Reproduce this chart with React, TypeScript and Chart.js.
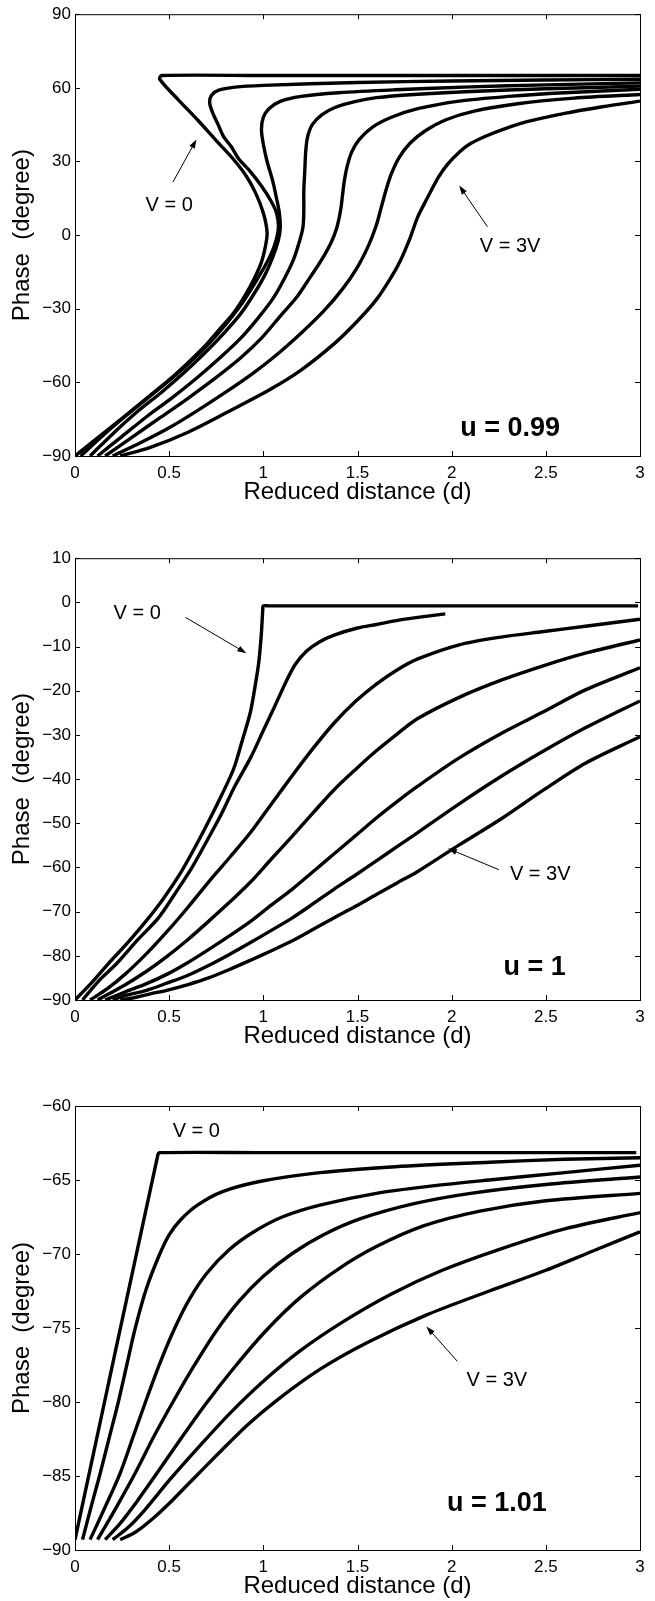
import React, { useEffect, useRef } from "react";
import { Chart, registerables } from "chart.js";
Chart.register(...registerables);

type Pt = [number, number];

const FONT = "'Liberation Sans', Arial, Helvetica, sans-serif";
const X_TITLE = "Reduced distance (d)";
const Y_TITLE = "Phase  (degree)";

// ---------- Panel 1 : u = 0.99 ----------
const a_v00: Pt[] = [[0,-90],[0.13,-82],[0.26,-74],[0.38,-66.5],[0.5,-59],[0.6,-52],[0.68,-46],[0.76,-39],[0.84,-32],[0.9,-25],[0.95,-18],[0.99,-11],[1.01,-5],[1.02,1],[1.0,9],[0.96,17],[0.91,24],[0.84,31],[0.75,38.5],[0.65,47],[0.55,55],[0.45,63.5],[0.46,65],[1.0,65],[1.5,65],[2,65],[2.5,65],[3,65]];
const a_v05: Pt[] = [[0.03,-90],[0.15,-81.5],[0.28,-73],[0.4,-65.5],[0.52,-58],[0.63,-50.5],[0.72,-43.5],[0.81,-35.5],[0.89,-27.5],[0.96,-19],[1.02,-11],[1.06,-4],[1.08,3],[1.07,9],[1.04,14],[0.99,20],[0.93,26],[0.87,31],[0.83,36],[0.79,40],[0.76,45],[0.73,50],[0.715,54],[0.725,57],[0.76,59],[0.85,60.3],[1.0,61],[1.5,62.2],[2,62.8],[2.5,63.2],[3,63.5]];
const a_v10: Pt[] = [[0.08,-90],[0.2,-81],[0.33,-72],[0.46,-64],[0.58,-56],[0.69,-48],[0.79,-40],[0.88,-32],[0.95,-24],[1.01,-16],[1.05,-9],[1.08,-2],[1.09,3],[1.085,9],[1.07,15],[1.05,22],[1.02,30],[1.0,37],[0.99,43],[1.0,48],[1.03,51.5],[1.09,54.5],[1.2,56.5],[1.4,58],[1.7,59.2],[2.1,60.4],[2.5,61.2],[3,62]];
const a_v15: Pt[] = [[0.12,-90],[0.25,-82],[0.38,-74],[0.52,-66],[0.65,-58],[0.77,-50],[0.88,-42],[0.97,-34],[1.05,-26],[1.11,-18],[1.16,-10],[1.19,-3],[1.21,3],[1.215,10],[1.215,18],[1.22,26],[1.225,34],[1.235,40],[1.26,45],[1.31,49],[1.38,52],[1.48,54.3],[1.6,56],[1.8,57.3],[2.1,58.5],[2.5,59.6],[3,60.7]];
const a_v20: Pt[] = [[0.16,-90],[0.3,-82.5],[0.45,-74.5],[0.6,-66.5],[0.75,-58],[0.88,-50],[0.99,-42],[1.09,-33],[1.18,-25],[1.25,-17],[1.31,-10],[1.36,-3],[1.39,3],[1.41,10],[1.42,16],[1.43,22],[1.445,28],[1.47,34],[1.51,39],[1.58,44],[1.68,48],[1.82,51.5],[2.04,54.6],[2.3,56.5],[2.6,58],[3,59.4]];
const a_v25: Pt[] = [[0.2,-90],[0.35,-84.5],[0.5,-78.5],[0.65,-71.5],[0.8,-64],[0.95,-56],[1.09,-47.5],[1.2,-40],[1.32,-31],[1.42,-22],[1.5,-13],[1.56,-4],[1.6,4],[1.625,11],[1.65,18],[1.68,25],[1.72,31.5],[1.78,37.5],[1.86,42.5],[1.97,47],[2.12,50.5],[2.35,53.5],[2.65,55.8],[3,57.3]];
const a_v30: Pt[] = [[0.24,-90],[0.4,-86.5],[0.6,-80.3],[0.8,-72.5],[1.04,-62.7],[1.2,-55],[1.38,-44],[1.5,-35],[1.6,-26.3],[1.68,-17],[1.73,-10],[1.78,-1],[1.82,7.4],[1.87,15],[1.93,23.6],[1.98,29],[2.04,33.8],[2.1,37.3],[2.18,40.3],[2.27,43],[2.4,46.2],[2.6,49.6],[2.8,52.3],[3,54.6]];

// ---------- Panel 2 : u = 1 ----------
const b_v00: Pt[] = [[0,-90],[0.09,-86],[0.176,-81.8],[0.28,-77],[0.376,-72.2],[0.47,-67],[0.554,-61.7],[0.63,-56],[0.709,-49.6],[0.78,-43.5],[0.843,-37.6],[0.89,-31],[0.932,-24.7],[0.96,-18],[0.976,-13.5],[0.988,-8],[0.994,-3.9],[0.997,-1.6],[0.999,-0.8],[1.03,-0.8],[1.5,-0.8],[2,-0.8],[2.5,-0.8],[2.99,-0.8]];
const b_v05: Pt[] = [[0.04,-90],[0.13,-85.5],[0.22,-81.8],[0.33,-76.5],[0.443,-71.4],[0.53,-66],[0.62,-60.1],[0.7,-54],[0.776,-48],[0.85,-41.5],[0.932,-35.2],[1.0,-29],[1.065,-23.1],[1.12,-18],[1.17,-14],[1.23,-11],[1.3,-8.9],[1.376,-7.4],[1.5,-5.8],[1.6,-5],[1.72,-4],[1.82,-3.4],[1.966,-2.6]];
const b_v10: Pt[] = [[0.08,-90],[0.17,-87.5],[0.265,-84.2],[0.38,-79.5],[0.487,-74.6],[0.6,-69],[0.709,-63.3],[0.82,-57.8],[0.932,-52.1],[1.04,-45.8],[1.154,-39.2],[1.265,-33],[1.376,-27.3],[1.49,-22.4],[1.6,-18.5],[1.71,-15.3],[1.82,-12.8],[2.04,-9.6],[2.27,-7.8],[2.49,-6.6],[2.71,-5.4],[3,-3.8]];
const b_v15: Pt[] = [[0.12,-90],[0.265,-86.6],[0.38,-83.5],[0.487,-80.2],[0.6,-76.3],[0.709,-72.2],[0.82,-67.9],[0.932,-63.3],[1.04,-58.2],[1.154,-52.9],[1.265,-47.6],[1.376,-42.4],[1.49,-37.8],[1.6,-33.6],[1.71,-29.8],[1.82,-26.3],[2.04,-21.5],[2.27,-17.5],[2.49,-14.3],[2.71,-11.5],[3,-8.5]];
const b_v20: Pt[] = [[0.16,-90],[0.265,-88.2],[0.38,-86.3],[0.487,-84.2],[0.6,-81.5],[0.709,-78.6],[0.82,-75.5],[0.932,-72.2],[1.04,-68.6],[1.154,-64.9],[1.265,-60.9],[1.376,-56.9],[1.49,-52.8],[1.6,-48.8],[1.71,-45.1],[1.82,-41.6],[2.04,-35.2],[2.27,-29.5],[2.49,-24.7],[2.71,-19.8],[3,-14.8]];
const b_v25: Pt[] = [[0.2,-90],[0.265,-89],[0.38,-87.8],[0.487,-86.2],[0.6,-84.4],[0.709,-82.2],[0.82,-79.7],[0.932,-77],[1.04,-74.3],[1.154,-71.4],[1.265,-68.2],[1.376,-64.9],[1.49,-61.7],[1.6,-58.5],[1.71,-55.3],[1.82,-52.1],[2.04,-45.6],[2.27,-39.2],[2.49,-33.6],[2.71,-28.4],[3,-22.3]];
const b_v30: Pt[] = [[0.24,-90],[0.3,-89.6],[0.4,-88.6],[0.487,-87.8],[0.6,-86.5],[0.709,-85],[0.82,-83.1],[0.932,-81],[1.04,-78.9],[1.154,-76.6],[1.265,-74],[1.376,-71.4],[1.49,-68.8],[1.6,-66.1],[1.71,-63.5],[1.82,-60.9],[2.04,-54.9],[2.27,-48.8],[2.49,-42.4],[2.71,-36.4],[3,-30.4]];

// ---------- Panel 3 : u = 1.01 ----------
const c_v00: Pt[] = [[0,-89.3],[0.44,-63.3],[0.45,-63.15],[1,-63.15],[1.5,-63.15],[2,-63.15],[2.5,-63.15],[2.98,-63.15]];
const c_v05: Pt[] = [[0.04,-89.3],[0.085,-87.1],[0.13,-85],[0.18,-82.5],[0.23,-80],[0.275,-77.5],[0.32,-75],[0.38,-72.3],[0.45,-70],[0.5,-68.7],[0.56,-67.7],[0.65,-66.7],[0.78,-65.8],[0.98,-65.1],[1.3,-64.5],[1.7,-64.1],[2.2,-63.8],[2.6,-63.6],[3,-63.5]];
const c_v10: Pt[] = [[0.08,-89.3],[0.16,-87.1],[0.24,-84.8],[0.31,-82.3],[0.38,-79.8],[0.45,-77.4],[0.53,-75],[0.61,-73],[0.7,-71.3],[0.82,-69.7],[0.95,-68.5],[1.1,-67.5],[1.3,-66.7],[1.6,-65.9],[1.9,-65.4],[2.2,-65],[2.6,-64.5],[3,-64]];
const c_v15: Pt[] = [[0.12,-89.3],[0.22,-87.1],[0.32,-84.8],[0.42,-82.3],[0.52,-80],[0.63,-77.6],[0.75,-75.2],[0.87,-73.2],[1.0,-71.5],[1.15,-70],[1.32,-68.7],[1.52,-67.6],[1.8,-66.6],[2.1,-65.9],[2.5,-65.3],[3,-64.8]];
const c_v20: Pt[] = [[0.16,-89.3],[0.24,-88.2],[0.33,-86.7],[0.43,-84.9],[0.55,-82.7],[0.69,-80.2],[0.85,-77.6],[1.02,-75.1],[1.2,-72.9],[1.4,-71],[1.6,-69.5],[1.85,-68.1],[2.15,-67.1],[2.5,-66.4],[3,-65.9]];
const c_v25: Pt[] = [[0.2,-89.3],[0.28,-88.5],[0.37,-87.3],[0.5,-85.3],[0.66,-83],[0.82,-80.8],[1.0,-78.6],[1.2,-76.5],[1.42,-74.6],[1.68,-72.7],[1.95,-71.1],[2.25,-69.7],[2.6,-68.3],[3,-67.2]];
const c_v30: Pt[] = [[0.24,-89.3],[0.32,-88.8],[0.42,-87.8],[0.52,-86.6],[0.62,-85.3],[0.76,-83.5],[0.92,-81.5],[1.08,-79.8],[1.3,-77.8],[1.55,-76],[1.87,-74.1],[2.2,-72.5],[2.5,-71.1],[2.75,-69.8],[3,-68.5]];

type Note = { text: string; at: Pt; size: number; bold?: boolean };
type Arrow = { from: Pt; to: Pt };

const notesA: Note[] = [
  { text: "V = 0", at: [0.5, 12], size: 20 },
  { text: "V = 3V", at: [2.31, -4.7], size: 20 },
  { text: "u = 0.99", at: [2.31, -79], size: 27, bold: true },
];
const arrowsA: Arrow[] = [
  { from: [0.52, 21.6], to: [0.645, 39] },
  { from: [2.19, 3.4], to: [2.04, 20.2] },
];
const notesB: Note[] = [
  { text: "V = 0", at: [0.33, -2.6], size: 20 },
  { text: "V = 3V", at: [2.47, -61.7], size: 20 },
  { text: "u = 1", at: [2.44, -82.6], size: 27, bold: true },
];
const arrowsB: Arrow[] = [
  { from: [0.587, -3.4], to: [0.91, -11.5] },
  { from: [2.25, -60.5], to: [1.98, -55.7] },
];
const notesC: Note[] = [
  { text: "V = 0", at: [0.644, -61.7], size: 20 },
  { text: "V = 3V", at: [2.24, -78.55], size: 20 },
  { text: "u = 1.01", at: [2.24, -86.85], size: 27, bold: true },
];
const arrowsC: Arrow[] = [{ from: [2.03, -77.25], to: [1.866, -74.9] }];

const fmt = (v: number) => (v < 0 ? "\u2212" + String(Math.abs(v)) : String(v));

const decor = {
  id: "decor",
  afterDatasetsDraw(chart: any, _a: any, opts: any) {
    const { ctx, chartArea: a } = chart;
    const xs = chart.scales.x;
    const ys = chart.scales.y;
    ctx.save();
    ctx.strokeStyle = "#000";
    ctx.lineWidth = 1;
    ctx.strokeRect(a.left + 0.5, a.top + 0.5, a.right - a.left, a.bottom - a.top);
    const TL = 5;
    ctx.beginPath();
    xs.ticks.forEach((t: any) => {
      const p = Math.round(xs.getPixelForValue(t.value)) + 0.5;
      ctx.moveTo(p, a.bottom);
      ctx.lineTo(p, a.bottom - TL);
      ctx.moveTo(p, a.top);
      ctx.lineTo(p, a.top + TL);
    });
    ys.ticks.forEach((t: any) => {
      const p = Math.round(ys.getPixelForValue(t.value)) + 0.5;
      ctx.moveTo(a.left, p);
      ctx.lineTo(a.left + TL, p);
      ctx.moveTo(a.right, p);
      ctx.lineTo(a.right - TL, p);
    });
    ctx.stroke();
    const P = (q: Pt) => [xs.getPixelForValue(q[0]), ys.getPixelForValue(q[1])];
    ctx.fillStyle = "#000";
    ctx.textAlign = "center";
    ctx.textBaseline = "middle";
    (opts.notes || []).forEach((n: Note) => {
      const [x, y] = P(n.at);
      ctx.font = `${n.bold ? "bold " : ""}${n.size}px ${FONT}`;
      ctx.fillText(n.text, x, y);
    });
    (opts.arrows || []).forEach((ar: Arrow) => {
      const [x1, y1] = P(ar.from);
      const [x2, y2] = P(ar.to);
      const ang = Math.atan2(y2 - y1, x2 - x1);
      const c = Math.cos(ang), s = Math.sin(ang);
      ctx.lineWidth = 1;
      ctx.beginPath();
      ctx.moveTo(x1, y1);
      ctx.lineTo(x2 - 6 * c, y2 - 6 * s);
      ctx.stroke();
      ctx.beginPath();
      ctx.moveTo(x2, y2);
      ctx.lineTo(x2 - 9 * c + 3 * s, y2 - 9 * s - 3 * c);
      ctx.lineTo(x2 - 9 * c - 3 * s, y2 - 9 * s + 3 * c);
      ctx.closePath();
      ctx.fill();
    });
    ctx.restore();
  },
};

interface PanelProps {
  curves: Pt[][];
  yMin: number;
  yMax: number;
  yStep: number;
  notes: Note[];
  arrows: Arrow[];
  top: number;
  height: number;
  padTop: number;
  bottomLocal: number;
}

function Panel(p: PanelProps) {
  const ref = useRef<HTMLCanvasElement>(null);
  useEffect(() => {
    if (!ref.current) return;
    const xAxisH = p.height - p.bottomLocal;
    const titleMid = p.bottomLocal + 36;
    const titleLH = 24;
    const titlePadBottom = Math.max(0, p.height - titleMid - titleLH / 2);
    const chart = new Chart(ref.current, {
      type: "line",
      data: {
        datasets: p.curves.map((c) => ({
          data: c.map(([x, y]) => ({ x, y })),
          borderColor: "#000",
          backgroundColor: "#000",
          borderWidth: 3.4,
          pointRadius: 0,
          tension: 0.3,
          fill: false,
        })),
      },
      options: {
        responsive: false,
        animation: false,
        devicePixelRatio: 1,
        layout: { padding: { top: p.padTop, right: 15, left: 0, bottom: 0 } },
        plugins: {
          legend: { display: false },
          tooltip: { enabled: false },
          decor: { notes: p.notes, arrows: p.arrows },
        } as any,
        scales: {
          x: {
            type: "linear",
            min: 0,
            max: 3,
            ticks: {
              stepSize: 0.5,
              padding: 7,
              color: "#000",
              maxRotation: 0,
              autoSkip: false,
              font: { size: 17, family: FONT },
              callback: (v: any) => fmt(Number(v)),
            },
            grid: { display: false, drawTicks: false },
            border: { display: false },
            title: {
              display: true,
              text: X_TITLE,
              color: "#000",
              font: { size: 24, family: FONT, lineHeight: 1 },
              padding: { top: 0, bottom: titlePadBottom },
            },
            afterFit: (s: any) => {
              s.height = xAxisH;
            },
          },
          y: {
            type: "linear",
            min: p.yMin,
            max: p.yMax,
            ticks: {
              stepSize: p.yStep,
              padding: 4,
              color: "#000",
              autoSkip: false,
              font: { size: 17, family: FONT },
              callback: (v: any) => fmt(Number(v)),
            },
            grid: { display: false, drawTicks: false },
            border: { display: false },
            title: {
              display: true,
              text: Y_TITLE,
              color: "#000",
              font: { size: 24, family: FONT, lineHeight: 1 },
              padding: { top: 10, bottom: 0 },
            },
            afterFit: (s: any) => {
              s.width = 75;
            },
          },
        } as any,
      },
      plugins: [decor as any],
    });
    return () => chart.destroy();
  }, []);
  return (
    <canvas
      ref={ref}
      width={655}
      height={p.height}
      style={{ position: "absolute", left: 0, top: p.top, width: 655, height: p.height, display: "block" }}
    />
  );
}

export default function App() {
  return (
    <div style={{ position: "absolute", left: 0, top: 0, width: 655, height: 1601, background: "#fff", overflow: "hidden" }}>
      <Panel
        curves={[a_v00, a_v05, a_v10, a_v15, a_v20, a_v25, a_v30]}
        yMin={-90} yMax={90} yStep={30}
        notes={notesA} arrows={arrowsA}
        top={0} height={544} padTop={13} bottomLocal={456}
      />
      <Panel
        curves={[b_v00, b_v05, b_v10, b_v15, b_v20, b_v25, b_v30]}
        yMin={-90} yMax={10} yStep={10}
        notes={notesB} arrows={arrowsB}
        top={544} height={544} padTop={13} bottomLocal={456}
      />
      <Panel
        curves={[c_v00, c_v05, c_v10, c_v15, c_v20, c_v25, c_v30]}
        yMin={-90} yMax={-60} yStep={5}
        notes={notesC} arrows={arrowsC}
        top={1088} height={513} padTop={18} bottomLocal={462}
      />
    </div>
  );
}
